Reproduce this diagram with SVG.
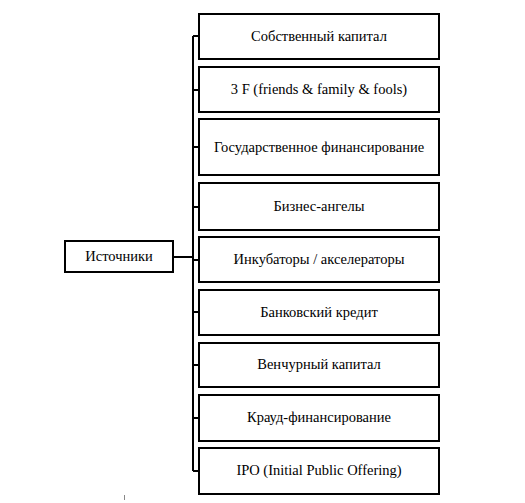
<svg xmlns="http://www.w3.org/2000/svg" width="525" height="503" viewBox="0 0 525 503">
<style>
.box{fill:#fff;stroke:#000;stroke-width:2}
.lbl{font-family:'Liberation Serif','Times New Roman',serif;font-size:14.5px;fill:#000;text-anchor:middle}
.con{stroke:#000;stroke-width:2;fill:none}
</style>
<rect width="525" height="503" fill="#fff"/>
<g id="connectors">
<path class="con" d="M173 257H193M193 36V471M193 36H199M193 90H199M193 147H199M193 207H199M193 260H199M193 312H199M193 365H199M193 418H199M193 471H199"/>
</g>
<g id="n0"><rect class="box" x="65" y="241" width="108" height="31"/><text class="lbl" x="119" y="261">Источники</text></g>
<g id="n1"><rect class="box" x="199" y="14" width="240" height="45"/><text class="lbl" x="319" y="41">Собственный капитал</text></g>
<g id="n2"><rect class="box" x="199" y="67" width="240" height="45"/><text class="lbl" x="319" y="94">3 F (friends &amp; family &amp; fools)</text></g>
<g id="n3"><rect class="box" x="199" y="119" width="240" height="56"/><text class="lbl" x="319" y="152">Государственное финансирование</text></g>
<g id="n4"><rect class="box" x="199" y="183" width="240" height="47"/><text class="lbl" x="319" y="211">Бизнес-ангелы</text></g>
<g id="n5"><rect class="box" x="199" y="237" width="240" height="45"/><text class="lbl" x="319" y="264">Инкубаторы / акселераторы</text></g>
<g id="n6"><rect class="box" x="199" y="290" width="240" height="45"/><text class="lbl" x="319" y="317">Банковский кредит</text></g>
<g id="n7"><rect class="box" x="199" y="343" width="240" height="44"/><text class="lbl" x="319" y="369">Венчурный капитал</text></g>
<g id="n8"><rect class="box" x="199" y="395" width="240" height="46"/><text class="lbl" x="319" y="422">Крауд-финансирование</text></g>
<g id="n9"><rect class="box" x="199" y="448" width="240" height="46"/><text class="lbl" x="319" y="475">IPO (Initial Public Offering)</text></g>
<line x1="124.5" y1="495" x2="124.5" y2="500" stroke="#888" stroke-width="1"/>
</svg>
